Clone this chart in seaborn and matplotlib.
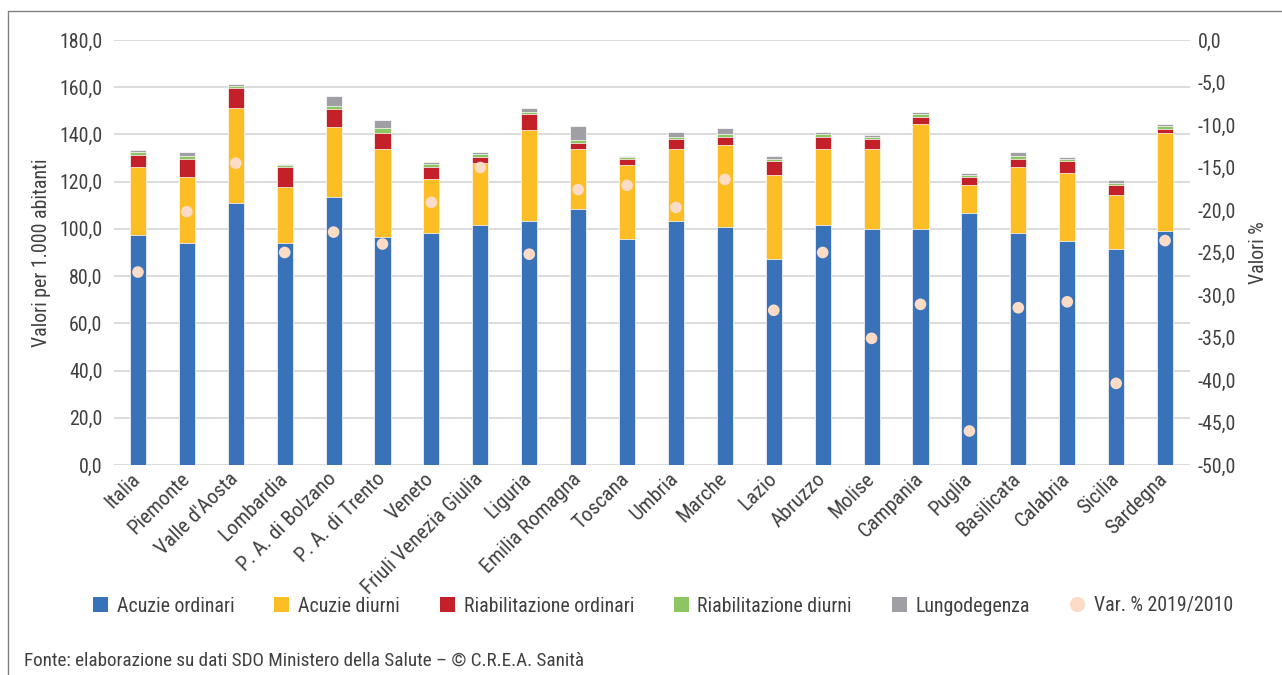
import numpy as np
import pandas as pd
import matplotlib
matplotlib.use("Agg")
import matplotlib.pyplot as plt
from matplotlib import font_manager
from matplotlib.lines import Line2D
from matplotlib.patches import Patch
from matplotlib.transforms import ScaledTranslation
import seaborn as sns

regions = ["Italia", "Piemonte", "Valle d'Aosta", "Lombardia", "P. A. di Bolzano",
           "P. A. di Trento", "Veneto", "Friuli Venezia Giulia", "Liguria",
           "Emilia Romagna", "Toscana", "Umbria", "Marche", "Lazio", "Abruzzo",
           "Molise", "Campania", "Puglia", "Basilicata", "Calabria", "Sicilia",
           "Sardegna"]

acuzie_ordinari = [97.4, 93.9, 111.1, 93.9, 113.6, 96.6, 98.3, 101.5, 103.3, 108.6, 95.6,
                   103.3, 100.8, 87.1, 101.6, 99.9, 99.8, 106.9, 98.3, 94.7, 91.4, 99.0]
acuzie_diurni = [28.9, 28.2, 40.0, 24.0, 29.7, 37.4, 23.0, 26.5, 38.5, 25.4, 31.6,
                 30.7, 34.9, 35.8, 32.4, 34.1, 44.5, 11.8, 28.0, 29.1, 23.1, 41.7]
riab_ordinari = [5.0, 7.6, 8.4, 8.4, 7.6, 6.7, 5.0, 2.5, 6.7, 2.5, 2.5,
                 4.2, 3.4, 6.0, 5.1, 4.2, 3.2, 3.3, 3.4, 5.1, 4.2, 1.7]
riab_diurni = [1.4, 1.0, 1.2, 0.8, 1.3, 1.9, 1.1, 1.2, 0.9, 1.1, 0.8,
               0.9, 1.0, 0.8, 1.2, 0.9, 1.0, 0.9, 1.0, 0.8, 0.9, 1.2]
lungodegenza = [0.6, 1.9, 0.7, 0.3, 4.1, 3.4, 0.8, 0.7, 1.7, 6.0, 0.4,
                1.8, 2.5, 1.0, 0.6, 0.7, 0.9, 0.8, 1.7, 0.7, 0.9, 0.7]
var_2019_2010 = [-27.3, -20.2, -14.5, -25.0, -22.6, -24.0, -19.1, -15.0, -25.2, -17.6, -17.1,
                 -19.7, -16.4, -31.8, -25.0, -35.1, -31.1, -46.0, -31.5, -30.8, -40.4, -23.6]

series_names = ["Acuzie ordinari", "Acuzie diurni", "Riabilitazione ordinari",
                "Riabilitazione diurni", "Lungodegenza"]
series_colors = ["#3A72BA", "#FDBD24", "#C4202A", "#8CC663", "#A0A0A4"]
dot_color = "#FCDCC6"
dot_label = "Var. % 2019/2010"

left_ticks = [0, 20, 40, 60, 80, 100, 120, 140, 160, 180]
right_ticks = [0, -5, -10, -15, -20, -25, -30, -35, -40, -45, -50]

sns.set_theme(style="white")
names = {f.name for f in font_manager.fontManager.ttflist}
preferred = ["Roboto Condensed", "Liberation Sans Narrow", "Open Sans Condensed"]
picked = [n for n in preferred if n in names]
family = [picked[0] if picked else "Liberation Sans", "DejaVu Sans"]
plt.rcParams["font.family"] = family
fs = 14.3
text_color = "#404040"
grid_color = "#D9D9D9"

df = pd.DataFrame({
    "regione": regions,
    series_names[0]: acuzie_ordinari,
    series_names[1]: acuzie_diurni,
    series_names[2]: riab_ordinari,
    series_names[3]: riab_diurni,
    series_names[4]: lungodegenza,
})
cum = df[series_names].cumsum(axis=1)

fig = plt.figure(figsize=(12.82, 6.75), dpi=100)
ax = fig.add_axes([113.5 / 1282, 1 - 465 / 675, (1189.5 - 113.5) / 1282, 425 / 675])

# stacked bars: draw cumulative totals from the top layer down
for name, color in reversed(list(zip(series_names, series_colors))):
    sns.barplot(x=df["regione"], y=cum[name], order=regions, color=color,
                width=0.33, edgecolor="white", linewidth=0.5, ax=ax,
                saturation=1, zorder=3)

ax.set_ylim(0, 180)
ax.set_xlim(-0.5, len(regions) - 0.5)
ax.set_yticks(left_ticks)
ax.set_yticklabels([f"{v:.1f}".replace(".", ",") for v in left_ticks])
ax.yaxis.grid(True, color=grid_color, linewidth=1.3, zorder=0)
ax.set_axisbelow(True)
for s in ax.spines.values():
    s.set_visible(False)
ax.tick_params(axis="y", length=0, pad=8, labelsize=fs, labelcolor=text_color)
ax.tick_params(axis="x", length=0, pad=3, labelsize=15, labelcolor=text_color)
ax.set_xticks(range(len(regions)))
ax.set_xticklabels(regions, rotation=45, ha="right", rotation_mode="anchor")
shift = ScaledTranslation(-5 / 72, 0, fig.dpi_scale_trans)
for lbl in ax.get_xticklabels():
    lbl.set_transform(lbl.get_transform() + shift)
ax.set_xlabel("")
ax.set_ylabel("Valori per 1.000 abitanti", fontsize=fs, color=text_color, labelpad=6)

ax2 = ax.twinx()
sns.scatterplot(x=np.arange(len(regions)), y=var_2019_2010, ax=ax2, color=dot_color,
                s=70, edgecolor="none", zorder=5, legend=False)
ax2.set_ylim(-50, 0)
ax2.set_yticks(right_ticks)
ax2.set_yticklabels([f"{v:.1f}".replace(".", ",") for v in right_ticks])
ax2.tick_params(axis="y", length=0, pad=6, labelsize=fs, labelcolor=text_color)
ax2.grid(False)
for s in ax2.spines.values():
    s.set_visible(False)
ax2.set_ylabel("Valori %", fontsize=fs, color=text_color, labelpad=9)
ax2.set_xlim(-0.5, len(regions) - 0.5)

handles = [Patch(facecolor=c, edgecolor="none") for c in series_colors]
handles.append(Line2D([], [], marker="o", linestyle="none", markersize=11,
                      markerfacecolor=dot_color, markeredgecolor="none"))
leg = fig.legend(handles, series_names + [dot_label], loc="center",
                 bbox_to_anchor=(663 / 1282, 1 - 606 / 675), ncol=6, frameon=False,
                 fontsize=fs, handlelength=0.75, handleheight=0.75,
                 handletextpad=0.45, columnspacing=2.0)
for t in leg.get_texts():
    t.set_color(text_color)

fig.text(24 / 1282, 1 - 661 / 675,
         "Fonte: elaborazione su dati SDO Ministero della Salute – © C.R.E.A. Sanità",
         fontsize=13.8, color=text_color, va="center", ha="left")

# frame lines at the top and on the left of the figure
fig.add_artist(Line2D([8 / 1282, 8 / 1282], [0, 1 - 11 / 675], transform=fig.transFigure,
                      color="#808080", linewidth=1))
fig.add_artist(Line2D([8 / 1282, 1], [1 - 11 / 675, 1 - 11 / 675], transform=fig.transFigure,
                      color="#808080", linewidth=1))

fig.savefig("out.png", dpi=100)
